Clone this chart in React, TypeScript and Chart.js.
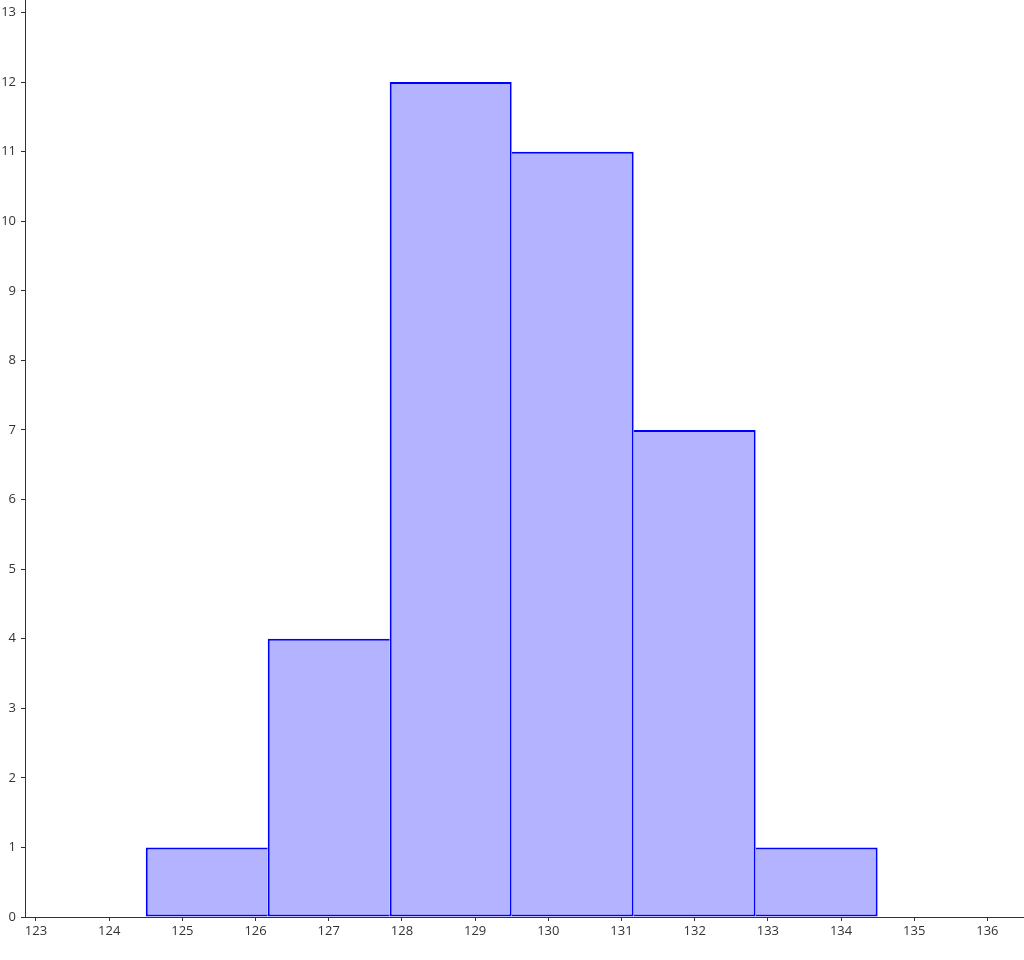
import React, { useEffect, useRef } from "react";
import { Chart, registerables } from "chart.js";

Chart.register(...registerables);

// Histogram data
const binEdges = [124.5, 126.1667, 127.8333, 129.5, 131.1667, 132.8333, 134.5];
const counts = [1, 4, 12, 11, 7, 1];

// Axis ranges
const X_MIN = 122.85;
const X_MAX = 136.5;
const Y_MIN = 0;
const Y_MAX = 13.18;

const FILL = "#b3b3ff";
const STROKE = "#0000ff";
const AXIS = "#333333";
const TEXT = "#333333";
const FONT = { family: "'Open Sans', 'Noto Sans', sans-serif", size: 13 };

export default function App() {
  const ref = useRef<HTMLCanvasElement | null>(null);

  useEffect(() => {
    document.body.style.margin = "0";
    const canvas = ref.current;
    if (!canvas) return;

    const data = counts.map((c, i) => ({ x: (binEdges[i] + binEdges[i + 1]) / 2, y: c }));
    const last = counts.length - 1;

    const chart = new Chart(canvas, {
      type: "bar",
      data: {
        datasets: [
          {
            data,
            xAxisID: "xb",
            yAxisID: "y",
            backgroundColor: FILL,
            borderColor: STROKE,
            borderSkipped: false,
            inflateAmount: 0,
            borderWidth: (ctx: any) => {
              const i = ctx.dataIndex;
              return {
                top: 2,
                bottom: 2,
                left: i === 0 || counts[i] >= counts[i - 1] ? 2 : 0,
                right: i === last || counts[i] > counts[i + 1] ? 2 : 0,
              };
            },
            barPercentage: 1,
            categoryPercentage: 1,
          } as any,
        ],
      },
      options: {
        responsive: false,
        animation: false,
        devicePixelRatio: 1,
        layout: { padding: 0 },
        plugins: { legend: { display: false }, tooltip: { enabled: false } },
        scales: {
          x: {
            type: "linear",
            position: "bottom",
            offset: false,
            min: X_MIN,
            max: X_MAX,
            ticks: { stepSize: 1, includeBounds: false, font: FONT, color: TEXT, padding: 2, maxRotation: 0 },
            grid: { offset: false, drawOnChartArea: false, drawTicks: true, tickLength: 4, color: AXIS },
            border: { display: true, color: AXIS, width: 1 },
            afterFit: (s: any) => {
              s.height = 43;
              s.paddingLeft = 0;
              s.paddingRight = 0;
            },
          },
          xb: {
            type: "linear",
            display: false,
            offset: false,
            grid: { offset: false },
            min: X_MIN,
            max: X_MAX,
            ticks: { count: 2 },
          },
          y: {
            type: "linear",
            position: "left",
            min: Y_MIN,
            max: Y_MAX,
            ticks: { stepSize: 1, includeBounds: false, font: FONT, color: TEXT, padding: 5 },
            grid: { drawOnChartArea: false, drawTicks: true, tickLength: 4, color: AXIS },
            border: { display: true, color: AXIS, width: 1 },
            afterFit: (s: any) => {
              s.width = 25;
              s.paddingTop = 0;
              s.paddingBottom = 0;
            },
          },
        },
      } as any,
    });

    return () => chart.destroy();
  }, []);

  return (
    <div style={{ position: "fixed", left: 0, top: 0, width: 1024, height: 960, background: "#fff" }}>
      <canvas ref={ref} width={1024} height={960} style={{ width: 1024, height: 960, display: "block" }} />
    </div>
  );
}
